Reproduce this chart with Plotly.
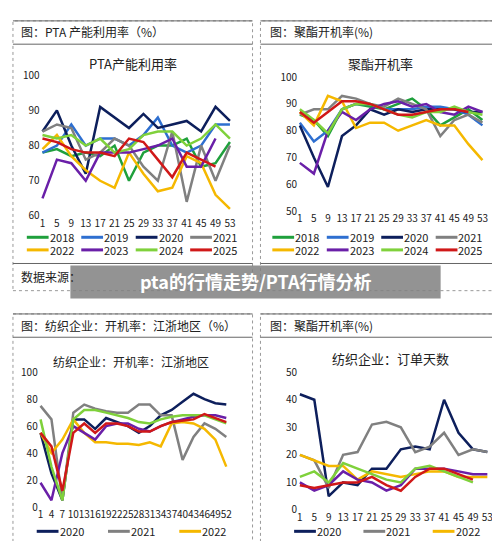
import plotly.graph_objects as go

W, H = 500, 541

years8 = ['2018', '2019', '2020', '2021', '2022', '2023', '2024', '2025']
years6 = ['2020', '2021', '2022', '2023', '2024', '2025']
colors = {'2018': '#1fa03c', '2019': '#2e6fd0', '2020': '#0d1f5c', '2021': '#808080',
          '2022': '#f5b800', '2023': '#6a1fa8', '2024': '#7fd13b', '2025': '#d01818'}

weeks_4 = list(range(1, 54, 4))
weeks_3 = list(range(1, 53, 3))

pta_util = {
    '2018': [78, 79, 77, 78, 77, 80, 70, 78, 80, 80, 82, 74, 75, 81],
    '2019': [78, 80, 86, 80, 82, 82, 80, 83, 88, 80, 78, 80, 86, 86],
    '2020': [84, 90, 80, 72, 91, 88, 85, 89, 85, 86, 87, 84, 91, 87],
    '2021': [84, 86, 85, 76, 78, 82, 80, 74, 70, 84, 64, 80, 70, 80],
    '2022': [79, 83, 77, 73, 70, 68, 78, 72, 67, 68, 77, 75, 66, 62],
    '2023': [65, 76, 75, 70, 78, 78, 78, 79, 80, 82, 74, 74, 82, None],
    '2024': [83, 82, 83, 80, 82, 78, 79, 83, 84, 84, 80, 82, 86, 82],
    '2025': [82, 81, 79, 78, 78, 77, 82, 81, 76, 71, 78, 76, 74, None],
}
polyester = {
    '2018': [86, 84, 78, 88, 90, 89, 88, 90, 92, 88, 82, 85, 88, 84],
    '2019': [83, 76, 80, 88, 90, 90, 88, 88, 88, 89, 89, 88, 86, 82],
    '2020': [82, 70, 59, 78, 82, 88, 86, 88, 87, 88, 88, 88, 87, 87],
    '2021': [86, 88, 88, 93, 92, 90, 89, 92, 90, 88, 78, 84, 86, 83],
    '2022': [87, 82, 93, 91, 81, 83, 83, 80, 82, 84, 82, 82, 75, 69],
    '2023': [68, 64, 80, 87, 84, 88, 90, 91, 89, 90, 87, 86, 89, 87],
    '2024': [88, 84, 79, 88, 90, 90, 88, 86, 85, 87, 87, 89, 87, 86],
    '2025': [87, 83, 87, 91, 91, 90, 88, 86, 86, 87, 88, 88, 87, None],
}
weaving = {
    '2020': [55, 25, 5, 65, 65, 58, 66, 63, 60, 55, 60, 68, 72, 78, 84, 80, 77, 76],
    '2021': [75, 65, 5, 70, 76, 73, 71, 70, 70, 76, 76, 68, 68, 35, 52, 62, 58, 52],
    '2022': [55, 40, 50, 65, 55, 48, 48, 47, 47, 46, 48, 45, 62, 63, 62, 58, 50, 30],
    '2023': [18, 5, 40, 60, 55, 50, 60, 62, 62, 58, 56, 60, 63, 65, 67, 68, 68, 66],
    '2024': [65, 30, 5, 65, 72, 72, 70, 68, 66, 63, 62, 65, 67, 68, 68, 68, 65, 62],
    '2025': [55, 45, 12, 55, 62, 55, 62, 62, 60, 56, 56, 60, 63, 64, 65, 69, 66, 63],
}
order_days = {
    '2020': [42, 40, 5, 10, 9, 15, 15, 22, 23, 22, 40, 28, 22, 21],
    '2021': [20, 18, 8, 20, 21, 31, 32, 30, 21, 23, 28, 20, 22, 21],
    '2022': [20, 18, 16, 16, 11, 14, 13, 12, 13, 14, 14, 12, 12, 12],
    '2023': [10, 7, 9, 14, 11, 10, 7, 9, 15, 15, 15, 14, 13, 13],
    '2024': [12, 14, 10, 17, 15, 13, 11, 10, 15, 16, 14, 12, 10, None],
    '2025': [9, 8, 9, 10, 10, 12, 9, 7, 12, 15, 15, 13, 11, None],
}


def px_x(v):
    return v / W


def px_y(v):
    return 1 - v / H


font = 'Noto Sans CJK SC'
fig = go.Figure()
shapes = []
ann = []

panels = [
    # data, years, weeks, axis suffix, x px, y px, y range, dtick, tick step, legend origin, cols, col width
    (pta_util, years8, weeks_4, '', (32, 225), (60, 205), [60, 100], 10, 4, (18, 227), 4, 55),
    (polyester, years8, weeks_4, '2', (292, 480), (62, 200), [50, 100], 10, 4, (266, 227), 4, 55),
    (weaving, years6, weeks_3, '3', (30, 225), (366, 505), [0, 100], 20, 3, (28, 530), 3, 72),
    (order_days, years6, weeks_4, '4', (292, 485), (366, 508), [0, 50], 10, 4, (288, 530), 3, 70),
]

for data, yrs, wk, sfx, xs, ys, yr, dt, step, lo, ncol, cw in panels:
    for y in yrs:
        fig.add_trace(go.Scatter(x=wk, y=data[y], name=y, mode='lines', showlegend=False,
                                 line=dict(color=colors[y], width=2.5),
                                 xaxis='x' + sfx, yaxis='y' + sfx))
    fig.update_layout(**{
        'xaxis' + sfx: dict(domain=[px_x(xs[0]), px_x(xs[1])], anchor='y' + sfx,
                            range=[0.5, 53.5], tickmode='array', tickangle=0,
                            tickvals=list(range(1, 54, step)), showgrid=False,
                            zeroline=False, showline=False, ticklen=2,
                            tickfont=dict(size=10, color='#222')),
        'yaxis' + sfx: dict(domain=[px_y(ys[1]), px_y(ys[0])], anchor='x' + sfx,
                            range=yr, dtick=dt, showgrid=False, zeroline=False,
                            showline=False, tickfont=dict(size=10, color='#222')),
    })
    # hand-made legend
    for i, y in enumerate(yrs):
        cx = lo[0] + (i % ncol) * cw
        cy = lo[1] + (i // ncol) * 13
        shapes.append(dict(type='line', xref='paper', yref='paper', x0=px_x(cx), x1=px_x(cx + 22),
                           y0=px_y(cy), y1=px_y(cy), line=dict(color=colors[y], width=3)))
        ann.append(dict(xref='paper', yref='paper', x=px_x(cx + 22), y=px_y(cy), text=y,
                        showarrow=False, xanchor='left', yanchor='middle', borderpad=0,
                        font=dict(size=11, color='#222')))

# frames and header rows
boxes = [(4, 246, 4, 282, 28), (254, 496, 4, 282, 28), (4, 246, 306, 545, 330), (254, 496, 306, 545, 330)]
for x0, x1, y0, y1, hy in boxes:
    shapes.append(dict(type='rect', xref='paper', yref='paper', x0=px_x(x0), x1=px_x(x1),
                       y0=px_y(y1), y1=px_y(y0), line=dict(color='#999', width=1, dash='dot')))
    for ly in (y0, hy):
        shapes.append(dict(type='line', xref='paper', yref='paper', x0=px_x(x0), x1=px_x(x1),
                           y0=px_y(ly), y1=px_y(ly), line=dict(color='#666', width=1)))
for x0, x1 in ((4, 246), (254, 496)):
    shapes.append(dict(type='line', xref='paper', yref='paper', x0=px_x(x0), x1=px_x(x1),
                       y0=px_y(254), y1=px_y(254), line=dict(color='#666', width=1)))
# watermark banner
shapes.append(dict(type='rect', xref='paper', yref='paper', x0=px_x(62), x1=px_x(436),
                   y0=px_y(290), y1=px_y(256), fillcolor='rgba(128,128,128,0.85)', line_width=0))

texts = [
    (10, 15, '图：PTA 产能利用率（%）', 12, 'left'),
    (262, 15, '图：聚酯开机率(%)', 12, 'left'),
    (10, 318, '图：纺织企业：开机率：江浙地区（%）', 12, 'left'),
    (262, 318, '图：聚酯开机率(%)', 12, 'left'),
    (125, 48, 'PTA产能利用率', 13, 'center'),
    (375, 48, '聚酯开机率', 13, 'center'),
    (123, 355, '纺织企业：开机率：江浙地区', 12, 'center'),
    (385, 352, '纺织企业：订单天数', 13, 'center'),
    (10, 267, '数据来源：', 12, 'left'),
]
for x, y, t, s, a in texts:
    ann.append(dict(xref='paper', yref='paper', x=px_x(x), y=px_y(y), text=t, showarrow=False,
                    xanchor=a, yanchor='middle', font=dict(size=s, color='#222', family=font)))
ann.append(dict(xref='paper', yref='paper', x=px_x(249), y=px_y(272),
                text='<b>pta的行情走势/PTA行情分析</b>',
                showarrow=False, font=dict(size=18, color='white', family=font)))

fig.update_layout(
    width=W, height=H, margin=dict(l=0, r=0, t=0, b=0),
    paper_bgcolor='white', plot_bgcolor='white', font=dict(family=font),
    shapes=shapes, annotations=ann, showlegend=False,
)

fig.write_html('out.html')
